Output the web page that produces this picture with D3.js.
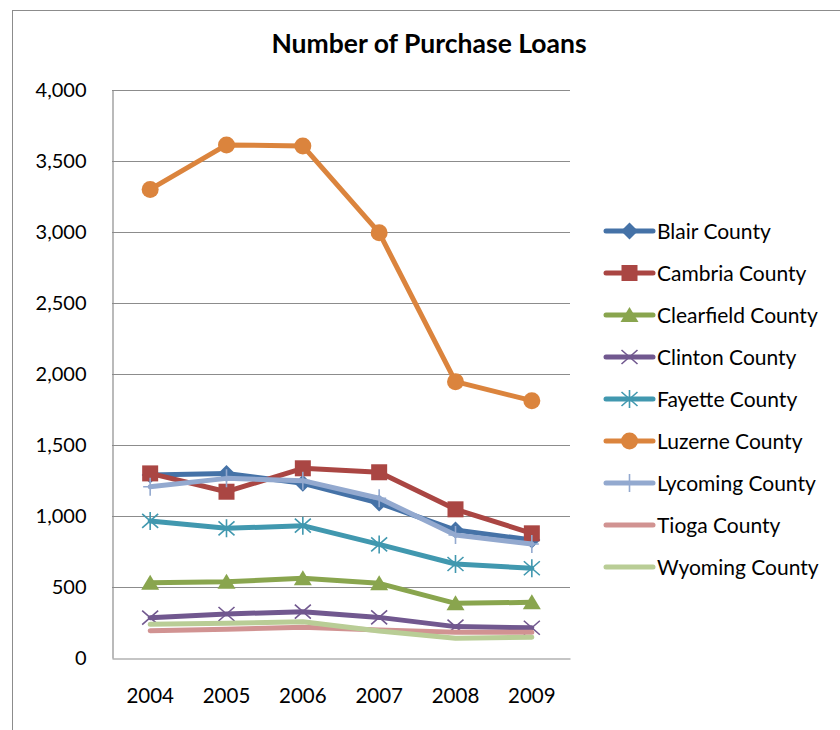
<!DOCTYPE html>
<html>
<head>
<meta charset="utf-8">
<script src="https://cdn.jsdelivr.net/npm/d3@7"></script>
<style>
  html, body { margin: 0; padding: 0; background: #fff; }
  svg { display: block; font-family: Lato, "Open Sans", sans-serif; }
</style>
</head>
<body>
<svg id="chart" width="840" height="730"></svg>
<script>
// Purchase loans by county, 2004–2009
const years = ["2004", "2005", "2006", "2007", "2008", "2009"];
const counties = ["Blair County", "Cambria County", "Clearfield County", "Clinton County",
  "Fayette County", "Luzerne County", "Lycoming County", "Tioga County", "Wyoming County"];
const blair      = [1289, 1300, 1230, 1091, 901, 831];
const cambria    = [1300, 1171, 1336, 1308, 1047, 878];
const clearfield = [530, 537, 561, 526, 385, 392];
const clinton    = [284, 310, 326, 286, 221, 213];
const fayette    = [965, 913, 932, 800, 662, 632];
const luzerne    = [3300, 3613, 3606, 2995, 1946, 1812];
const lycoming   = [1206, 1265, 1249, 1125, 866, 803];
const tioga      = [192, 202, 216, 197, 181, 181];
const wyoming    = [237, 244, 256, 190, 139, 146];
const yTicks = [0, 500, 1000, 1500, 2000, 2500, 3000, 3500, 4000];

const colors  = ["#4572A7", "#AA4643", "#89A54E", "#71588F", "#4198AF", "#DB843D", "#93A9CF", "#D19392", "#B9CD96"];
const markers = ["diamond", "square", "triangle", "x", "star", "circle", "plus", "none", "none"];
const valueSets = [blair, cambria, clearfield, clinton, fayette, luzerne, lycoming, tioga, wyoming];
const series = counties.map((name, i) => ({ name, values: valueSets[i], color: colors[i], marker: markers[i] }));

const svg = d3.select("#chart");
const plot = { left: 112, right: 570, top: 90, bottom: 658 };

// outer chart frame
svg.append("rect").attr("x", 12.5).attr("y", 10.5).attr("width", 840).attr("height", 730)
  .attr("fill", "none").attr("stroke", "#8c8c8c").attr("stroke-width", 1);

svg.append("text").attr("x", 429).attr("y", 53).attr("text-anchor", "middle")
  .attr("font-size", 26.5).attr("font-weight", "bold").attr("fill", "#000")
  .text("Number of Purchase Loans");

const x = d3.scaleBand().domain(years).range([plot.left, plot.right]);
const y = d3.scaleLinear().domain([0, 4000]).range([plot.bottom, plot.top]);

// gridlines
svg.append("g").selectAll("line").data(yTicks.filter(d => d > 0)).join("line")
  .attr("x1", plot.left).attr("x2", plot.right)
  .attr("y1", d => Math.round(y(d)) + 0.5).attr("y2", d => Math.round(y(d)) + 0.5)
  .attr("stroke", "#8c8c8c").attr("stroke-width", 1.2);

// y axis
const yAxis = svg.append("g").attr("transform", `translate(${plot.left + 0.5},0)`)
  .call(d3.axisLeft(y).tickValues(yTicks).tickFormat(d3.format(",")).tickSize(0).tickPadding(26));
yAxis.select(".domain").attr("stroke", "#8c8c8c").attr("stroke-width", 1.2);
yAxis.selectAll("text").attr("font-size", 20).attr("fill", "#000").attr("font-family", "Lato, sans-serif");

// x axis
const xAxis = svg.append("g").attr("transform", `translate(0,${plot.bottom + 0.5})`)
  .call(d3.axisBottom(x).tickSize(0).tickPadding(30));
xAxis.select(".domain").attr("stroke", "#8c8c8c").attr("stroke-width", 1.2);
xAxis.selectAll("text").attr("font-size", 20.5).attr("fill", "#000").attr("font-family", "Lato, sans-serif");

const line = d3.line().x((d, i) => x(years[i]) + x.bandwidth() / 2).y(d => y(d));

function drawMarker(g, type, color, cx, cy) {
  const s = 8.5;
  if (type === "diamond") {
    g.append("path").attr("d", `M${cx},${cy - s}L${cx + s},${cy}L${cx},${cy + s}L${cx - s},${cy}Z`).attr("fill", color);
  } else if (type === "square") {
    g.append("rect").attr("x", cx - 8).attr("y", cy - 8).attr("width", 16).attr("height", 16).attr("fill", color);
  } else if (type === "triangle") {
    g.append("path").attr("d", `M${cx},${cy - 8}L${cx + 9},${cy + 7}L${cx - 9},${cy + 7}Z`).attr("fill", color);
  } else if (type === "circle") {
    g.append("circle").attr("cx", cx).attr("cy", cy).attr("r", 8.5).attr("fill", color);
  } else if (type === "x") {
    g.append("path").attr("d", `M${cx - 8},${cy - 7}L${cx + 8},${cy + 7}M${cx - 8},${cy + 7}L${cx + 8},${cy - 7}`)
      .attr("stroke", color).attr("stroke-width", 1.6);
  } else if (type === "star") {
    g.append("path").attr("d", `M${cx - 8},${cy - 7}L${cx + 8},${cy + 7}M${cx - 8},${cy + 7}L${cx + 8},${cy - 7}M${cx},${cy - 9}L${cx},${cy + 9}`)
      .attr("stroke", color).attr("stroke-width", 1.6);
  } else if (type === "plus") {
    g.append("path").attr("d", `M${cx},${cy - 9}L${cx},${cy + 9}M${cx - 7},${cy}L${cx + 7},${cy}`)
      .attr("stroke", color).attr("stroke-width", 1.6);
  }
}

// later series draw on top of earlier ones
const seriesG = svg.append("g");
series.forEach(s => {
  const g = seriesG.append("g");
  g.append("path").datum(s.values).attr("d", line).attr("fill", "none")
    .attr("stroke", s.color).attr("stroke-width", 5).attr("stroke-linejoin", "round").attr("stroke-linecap", "round");
  s.values.forEach((v, i) => drawMarker(g, s.marker, s.color, x(years[i]) + x.bandwidth() / 2, y(v)));
});

// legend
const legend = svg.append("g");
series.forEach((s, i) => {
  const ly = 231 + i * 42;
  const g = legend.append("g");
  g.append("line").attr("x1", 606).attr("x2", 653).attr("y1", ly).attr("y2", ly)
    .attr("stroke", s.color).attr("stroke-width", 5).attr("stroke-linecap", "round");
  drawMarker(g, s.marker, s.color, 629.5, ly);
  g.append("text").attr("x", 657).attr("y", ly + 8).attr("font-size", 21).attr("fill", "#000").text(s.name);
});
</script>
</body>
</html>
